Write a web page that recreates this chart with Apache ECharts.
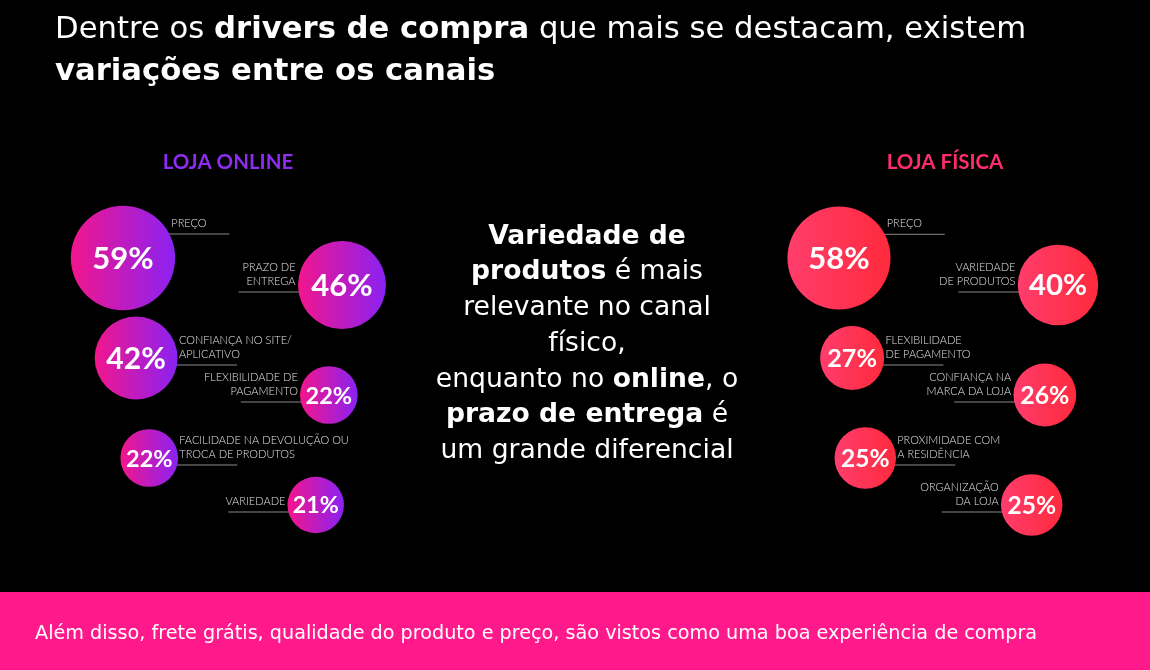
<!DOCTYPE html>
<html>
<head>
<meta charset="utf-8">
<script src="https://cdn.jsdelivr.net/npm/echarts@6/dist/echarts.min.js"></script>
<style>
html,body{margin:0;padding:0;background:#000;}
#chart{width:1150px;height:670px;}
</style>
</head>
<body>
<div id="chart"></div>
<script>
// ---- data ----
const channelTitles = ['LOJA ONLINE', 'LOJA FÍSICA'];
const onlineLabels = ['PREÇO', 'PRAZO DE\nENTREGA', 'CONFIANÇA NO SITE/\nAPLICATIVO', 'FLEXIBILIDADE DE\nPAGAMENTO', 'FACILIDADE NA DEVOLUÇÃO OU\nTROCA DE PRODUTOS', 'VARIEDADE'];
const onlineValues = [59, 46, 42, 22, 22, 21];
const physicalLabels = ['PREÇO', 'VARIEDADE\nDE PRODUTOS', 'FLEXIBILIDADE\nDE PAGAMENTO', 'CONFIANÇA NA\nMARCA DA LOJA', 'PROXIMIDADE COM\nA RESIDÊNCIA', 'ORGANIZAÇÃO\nDA LOJA'];
const physicalValues = [58, 40, 27, 26, 25, 25];
const titleLine1 = ['Dentre os ', 'drivers de compra', ' que mais se destacam, existem'];
const titleLine2 = 'variações entre os canais';
const footnote = 'Além disso, frete grátis, qualidade do produto e preço, são vistos como uma boa experiência de compra';

// ---- layout helpers (zig-zag arrangement by rank) ----
function layoutPoint(i) {
  const col = i % 2, row = Math.floor(i / 2);
  const x = col === 0 ? 0.06 * row : 1 - 0.06 * row;
  const y = row + (col === 1 ? 0.27 + 0.1 * row : 0);
  return [x, y];
}
function buildData(values) {
  return values.map((v, i) => { const p = layoutPoint(i); return [p[0], p[1], v, i]; });
}
const FONT = 'Lato, "Open Sans", sans-serif';
const WIDE = '"DejaVu Sans", "Open Sans", sans-serif';

function makeRender(labels, gradStops) {
  return function (params, api) {
    const v = api.value(2), i = api.value(3);
    const c = api.coord([api.value(0), api.value(1)]);
    const cx = c[0], cy = c[1];
    const r = 15 + 0.63 * v;
    const col = i % 2;
    const dy = i === 0 ? -0.46 * r : 7;
    const edge = Math.sqrt(Math.max(r * r - dy * dy, 0));
    const lineLen = 62;
    const lineY = cy + dy;
    let x1, x2, tx, align;
    if (col === 0) { x1 = cx + edge - 2; x2 = x1 + lineLen; tx = x1 + 4; align = 'left'; }
    else { x2 = cx - edge + 2; x1 = x2 - lineLen; tx = x2 - 5; align = 'right'; }
    const fs = Math.min(31, 0.52 * r + 8.5);
    return {
      type: 'group',
      children: [
        { type: 'line', shape: { x1: x1, y1: lineY, x2: x2, y2: lineY }, style: { stroke: '#8a8a8a', lineWidth: 1 } },
        { type: 'text', x: tx, y: lineY - 4, style: { text: labels[i], fill: '#e0e0e0', font: '300 11px ' + FONT, align: align, verticalAlign: 'bottom', lineHeight: 14 } },
        { type: 'circle', shape: { cx: cx, cy: cy, r: r }, style: { fill: new echarts.graphic.LinearGradient(0, 0, 1, 0, gradStops) } },
        { type: 'text', x: cx, y: cy + 1, style: { text: v + '%', fill: '#fff', font: 'bold ' + fs.toFixed(1) + 'px ' + FONT, align: 'center', verticalAlign: 'middle' } }
      ]
    };
  };
}

const onlineGrad = [{ offset: 0, color: '#f2168c' }, { offset: 1, color: '#8a22f2' }];
const physicalGrad = [{ offset: 0, color: '#ff3d6c' }, { offset: 1, color: '#ff2a3c' }];

const chart = echarts.init(document.getElementById('chart'));
const hiddenAxis = { show: false };
chart.setOption({
  backgroundColor: '#000',
  animation: false,
  grid: [
    { left: 123, top: 258, width: 219, height: 247 },
    { left: 839, top: 258, width: 219, height: 247 }
  ],
  xAxis: [
    Object.assign({ type: 'value', min: 0, max: 1, gridIndex: 0 }, hiddenAxis),
    Object.assign({ type: 'value', min: 0, max: 1, gridIndex: 1 }, hiddenAxis)
  ],
  yAxis: [
    Object.assign({ type: 'value', min: 0, max: 2.47, inverse: true, gridIndex: 0 }, hiddenAxis),
    Object.assign({ type: 'value', min: 0, max: 2.47, inverse: true, gridIndex: 1 }, hiddenAxis)
  ],
  series: [
    { type: 'custom', xAxisIndex: 0, yAxisIndex: 0, data: buildData(onlineValues), renderItem: makeRender(onlineLabels, onlineGrad), clip: false },
    { type: 'custom', xAxisIndex: 1, yAxisIndex: 1, data: buildData(physicalValues), renderItem: makeRender(physicalLabels, physicalGrad), clip: false }
  ],
  graphic: [
    { type: 'rect', left: 0, top: 592, shape: { width: 1150, height: 78 }, style: { fill: '#ff198b' } },
    { type: 'text', left: 35, top: 625, style: { text: footnote, fill: '#fff', font: '19.2px ' + WIDE } },
    { type: 'text', left: 55, top: 15, style: {
        text: '{n|' + titleLine1[0] + '}{b|' + titleLine1[1] + '}{n|' + titleLine1[2] + '}\n{b|' + titleLine2 + '}',
        rich: {
          n: { fill: '#fff', font: '30.7px ' + WIDE, lineHeight: 42 },
          b: { fill: '#fff', font: 'bold 30.7px ' + WIDE, lineHeight: 42 }
        } } },
    { type: 'text', x: 228, y: 162, style: { text: channelTitles[0], fill: '#8f2cf2', font: 'bold 20.5px ' + FONT, align: 'center', verticalAlign: 'middle' } },
    { type: 'text', x: 945, y: 162, style: { text: channelTitles[1], fill: '#ff2d6d', font: 'bold 20.5px ' + FONT, align: 'center', verticalAlign: 'middle' } },
    { type: 'text', x: 587, y: 219, style: {
        text: '{b|Variedade de}\n{b|produtos}{n| é mais}\n{n|relevante no canal}\n{n|físico,}\n{n|enquanto no }{b|online}{n|, o}\n{b|prazo de entrega}{n| é}\n{n|um grande diferencial}',
        align: 'center',
        rich: {
          n: { fill: '#fff', font: '26.6px ' + WIDE, lineHeight: 35.7, align: 'center' },
          b: { fill: '#fff', font: 'bold 26.6px ' + WIDE, lineHeight: 35.7, align: 'center' }
        } } }
  ]
});
</script>
</body>
</html>
